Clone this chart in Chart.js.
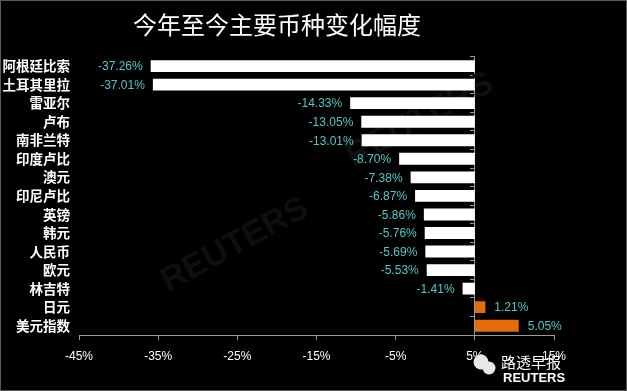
<!DOCTYPE html>
<html>
<head>
<meta charset="utf-8">
<script src="https://cdn.jsdelivr.net/npm/chart.js@4.4.1/dist/chart.umd.min.js"></script>
<style>
  html, body { margin: 0; padding: 0; background: #000; }
  #wrap { width: 627px; height: 391px; position: relative; }
  canvas { display: block; }
</style>
</head>
<body>
<div id="wrap"><canvas id="c" width="627" height="391"></canvas></div>
<script>
// ---- data ----
const titleText = '今年至今主要币种变化幅度';
const categories = ['阿根廷比索', '土耳其里拉', '雷亚尔', '卢布', '南非兰特', '印度卢比', '澳元', '印尼卢比', '英镑', '韩元', '人民币', '欧元', '林吉特', '日元', '美元指数'];
const changes = [-37.26, -37.01, -14.33, -13.05, -13.01, -8.70, -7.38, -6.87, -5.86, -5.76, -5.69, -5.53, -1.41, 1.21, 5.05];
const tickLabels = ['-45%', '-35%', '-25%', '-15%', '-5%', '5%', '15%'];
const tickValues = [-45, -35, -25, -15, -5, 5, 15];

const NEG = '#ffffff';
const POS = '#E46C0A';
const LABEL = '#55C7C4';

const valueLabels = {
  id: 'valueLabels',
  afterDatasetsDraw(chart) {
    const ctx = chart.ctx;
    const meta = chart.getDatasetMeta(0);
    ctx.save();
    ctx.font = '12px "Liberation Sans", "DejaVu Sans", sans-serif';
    ctx.fillStyle = LABEL;
    ctx.textBaseline = 'middle';
    meta.data.forEach((el, i) => {
      const v = changes[i];
      const txt = v.toFixed(2) + '%';
      if (v < 0) { ctx.textAlign = 'right'; ctx.fillText(txt, el.x - 8, el.y + 1); }
      else { ctx.textAlign = 'left'; ctx.fillText(txt, el.x + 9, el.y + 1); }
    });
    ctx.restore();
  }
};

const decor = {
  id: 'decor',
  beforeDatasetsDraw(chart) {
    const ctx = chart.ctx;
    ctx.save();
    ctx.fillStyle = '#0f0f0f';
    ctx.font = 'bold 34px "Liberation Sans", sans-serif';
    [[420, 120], [235, 245]].forEach(([x, y]) => {
      ctx.save();
      ctx.translate(x, y);
      ctx.rotate(-0.5);
      ctx.textAlign = 'center';
      ctx.textBaseline = 'middle';
      ctx.fillText('REUTERS', 0, 0);
      ctx.restore();
    });
    ctx.restore();
  },
  afterDraw(chart) {
    const ctx = chart.ctx;
    ctx.save();
    // wechat-like bubbles
    ctx.fillStyle = '#e8e8e8';
    ctx.beginPath(); ctx.arc(481, 362, 7.5, 0, Math.PI * 2); ctx.fill();
    ctx.beginPath(); ctx.arc(489, 368, 6.5, 0, Math.PI * 2); ctx.fill();
    ctx.fillStyle = '#ffffff';
    ctx.textBaseline = 'middle';
    ctx.textAlign = 'left';
    ctx.font = '15px "Noto Sans CJK SC", sans-serif';
    ctx.fillText('路透早报', 501, 362);
    ctx.font = 'bold 13px "Liberation Sans", sans-serif';
    ctx.fillText('REUTERS', 503, 378);
    // frame
    ctx.strokeStyle = '#5a5a5a';
    ctx.lineWidth = 1;
    ctx.strokeRect(0.5, 0.5, 626, 390);
    ctx.restore();
  }
};

new Chart(document.getElementById('c'), {
  type: 'bar',
  data: {
    labels: categories,
    datasets: [{
      data: changes,
      backgroundColor: changes.map(v => v < 0 ? NEG : POS),
      borderWidth: 0,
      barPercentage: 0.64,
      categoryPercentage: 1.0,
      xAxisID: 'x',
      yAxisID: 'y'
    }]
  },
  options: {
    indexAxis: 'y',
    responsive: false,
    animation: false,
    layout: { padding: { left: 0, right: 73, top: 0, bottom: 0 } },
    plugins: {
      legend: { display: false },
      tooltip: { enabled: false },
      title: {
        display: true,
        text: titleText,
        color: '#ffffff',
        font: { family: '"Noto Sans CJK SC", sans-serif', size: 24, weight: 'normal', lineHeight: 1.2 },
        padding: { top: 10, bottom: 18 }
      }
    },
    scales: {
      x: {
        type: 'linear',
        display: false,
        min: -45.5,
        max: 9.1
      },
      x2: {
        type: 'linear',
        position: 'bottom',
        min: -45,
        max: 15,
        afterBuildTicks(scale) { scale.ticks = tickValues.map(v => ({ value: v })); },
        afterFit(scale) { scale.height = 56; },
        ticks: {
          color: '#ffffff',
          font: { family: '"Liberation Sans", sans-serif', size: 12 },
          padding: 9,
          maxRotation: 0,
          autoSkip: false,
          callback: (v) => tickLabels[tickValues.indexOf(v)]
        },
        grid: { drawOnChartArea: false, color: '#9a9a9a', tickLength: 5 },
        border: { display: true, color: '#9a9a9a' }
      },
      y: {
        type: 'category',
        position: 'left',
        afterFit(scale) { scale.width = 79; },
        ticks: {
          color: '#ffffff',
          padding: 9,
          autoSkip: false,
          font: { family: '"Noto Sans CJK SC", sans-serif', size: 13.5, weight: 'bold' }
        },
        grid: { display: false, drawTicks: false },
        border: { display: false }
      },
      y2: {
        type: 'category',
        labels: categories,
        position: { x: 0 },
        axis: 'y',
        offset: true,
        ticks: { display: false, autoSkip: false },
        grid: { drawOnChartArea: false, offset: true, color: '#9a9a9a', tickLength: 4 },
        border: { display: true, color: '#9a9a9a' }
      }
    }
  },
  plugins: [valueLabels, decor]
});
</script>
</body>
</html>
